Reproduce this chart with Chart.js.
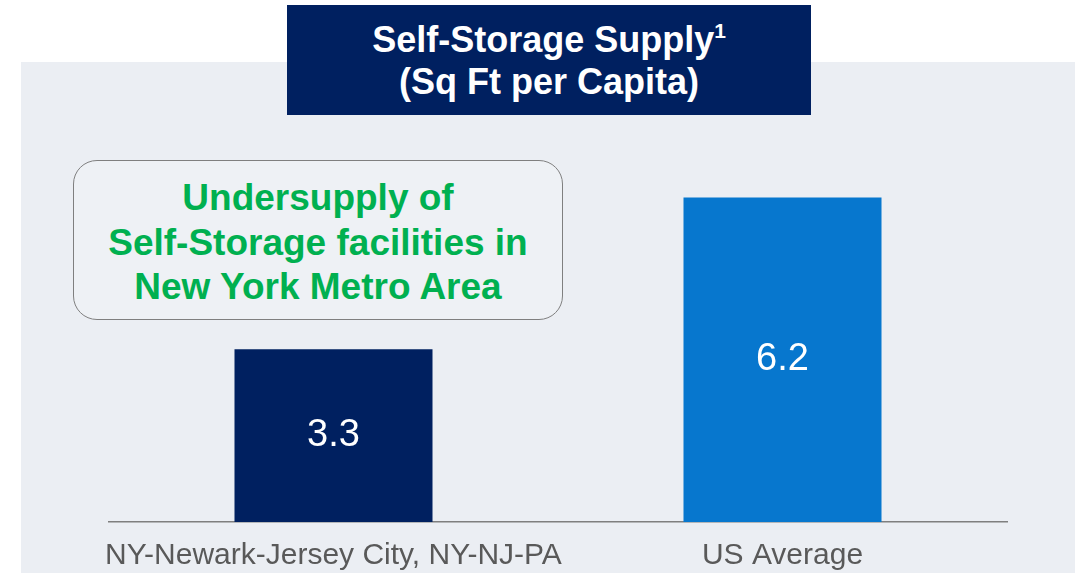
<!DOCTYPE html>
<html>
<head>
<meta charset="utf-8">
<script src="https://cdn.jsdelivr.net/npm/chart.js@4.4.1/dist/chart.umd.min.js"></script>
<style>
  body { margin: 0; background: #fff; font-family: "Liberation Sans", Arial, sans-serif; }
  #wrap { position: relative; width: 1084px; height: 573px; overflow: hidden; }
  #panel { position: absolute; left: 21px; top: 62px; width: 1054px; height: 511px; background: #ebeef3; }
  #chart { position: absolute; left: 0; top: 0; }
  #title {
    position: absolute; left: 287px; top: 5px; width: 524px; height: 110px;
    background: #002060; color: #fff; font-weight: bold; font-size: 36px;
    line-height: 42px; text-align: center; box-sizing: border-box; padding-top: 14px;
  }
  #title sup { font-size: 21px; vertical-align: 14px; line-height: 0; }
  #note {
    position: absolute; left: 73px; top: 160px; width: 490px; height: 160px;
    border: 1.5px solid #7f7f7f; border-radius: 24px; background: #eef1f5;
    box-sizing: border-box; color: #00b050; font-weight: bold; font-size: 37px;
    line-height: 44.5px; text-align: center; padding-top: 15px;
  }
</style>
</head>
<body>
<div id="wrap">
  <div id="panel"></div>
  <canvas id="chart" width="1084" height="573"></canvas>
  <div id="title">Self-Storage Supply<sup>1</sup><br>(Sq Ft per Capita)</div>
  <div id="note">Undersupply of<br>Self-Storage facilities in<br>New York Metro Area</div>
</div>
<script>
const categories = ["NY-Newark-Jersey City, NY-NJ-PA", "US Average"];
const supplyValues = [3.3, 6.2];
const barColors = ["#002060", "#0777ce"];

const valueLabels = {
  id: "valueLabels",
  afterDatasetsDraw(chart) {
    const ctx = chart.ctx;
    const meta = chart.getDatasetMeta(0);
    ctx.save();
    ctx.fillStyle = "#ffffff";
    ctx.font = '38px "Liberation Sans", Arial, sans-serif';
    ctx.textAlign = "center";
    ctx.textBaseline = "middle";
    meta.data.forEach((bar, i) => {
      const mid = (bar.y + bar.base) / 2;
      ctx.fillText(supplyValues[i].toFixed(1), bar.x, mid);
    });
    ctx.restore();
  },
};

new Chart(document.getElementById("chart"), {
  type: "bar",
  data: {
    labels: categories,
    datasets: [
      {
        data: supplyValues,
        backgroundColor: barColors,
        barPercentage: 0.441,
        categoryPercentage: 1,
      },
    ],
  },
  options: {
    responsive: false,
    animation: false,
    layout: { padding: { left: 109, right: 77, top: 140, bottom: -17 } },
    plugins: { legend: { display: false }, tooltip: { enabled: false } },
    scales: {
      x: {
        grid: { display: false, drawTicks: false },
        border: { display: true, color: "#7f7f7f", width: 1.5 },
        ticks: {
          color: "#595959",
          padding: 16,
          maxRotation: 0,
          minRotation: 0,
          autoSkip: false,
          font: { family: '"Liberation Sans", Arial, sans-serif', size: 30 },
        },
      },
      y: {
        display: false,
        min: 0,
        max: 7.3,
      },
    },
  },
  plugins: [valueLabels],
});
</script>
</body>
</html>
